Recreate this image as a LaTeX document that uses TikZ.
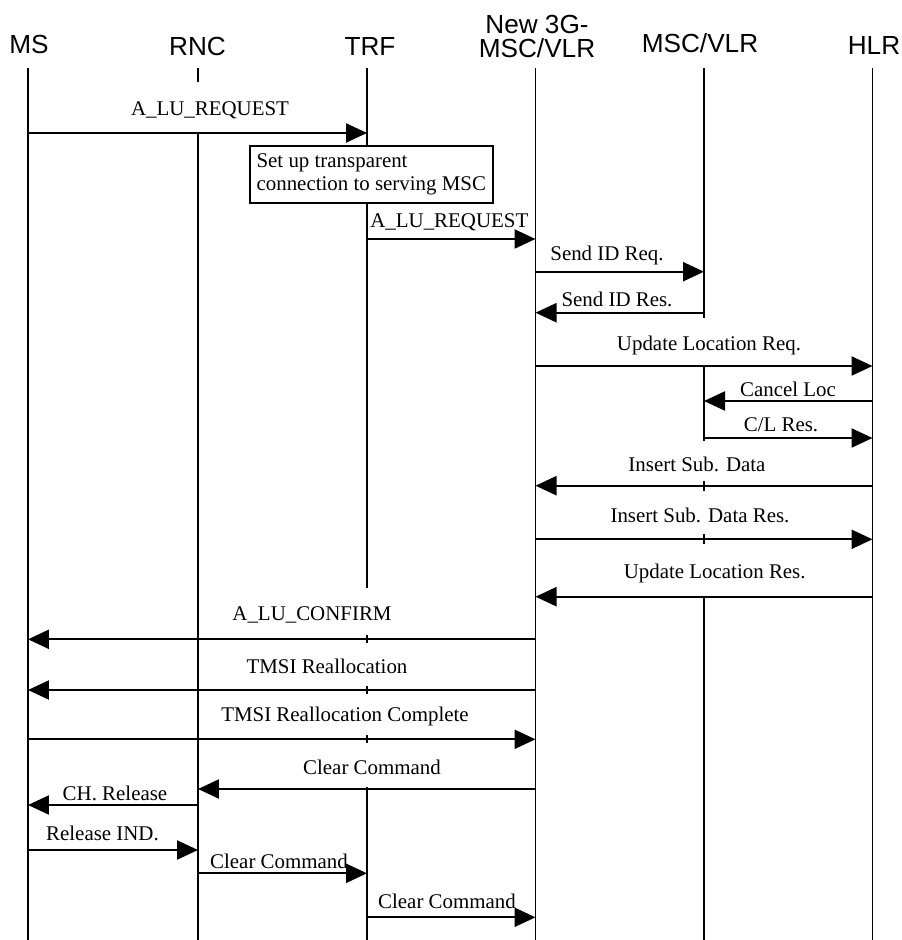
\documentclass[tikz,border=0pt]{standalone}
\usepackage{fontspec}
\setmainfont{Liberation Serif}
\newfontfamily\headfont{Liberation Sans}
\usetikzlibrary{arrows.meta}

\tikzset{
  life/.style={line width=0.9pt},
  msg/.style={line width=1.3pt,-{Triangle[length=0.42cm,width=0.38cm]}},
  head/.style={font=\headfont\fontsize{14.9}{14.2}\selectfont,inner sep=0pt},
  lbl/.style={font=\fontsize{11.9}{13.6}\selectfont,inner sep=0pt,anchor=base},
}

\begin{document}
\begin{tikzpicture}[x=0.02cm,y=-0.02cm]
    \useasboundingbox (0,0) rectangle (902,940);
    \node[head,anchor=base] (hms) at (29,53) {MS};
    \node[head,anchor=base] (hrnc) at (197.5,55) {RNC};
    \node[head,anchor=base] (htrf) at (370,55) {TRF};
    \node[head,align=center] (hnew) at (537,36.5) {New 3G-\\MSC/VLR};
    \node[head,anchor=base] (hvlr) at (700,52) {MSC/VLR};
    \node[head,anchor=base] (hhlr) at (874,54) {HLR};
    \coordinate (ms) at (28,68);
    \coordinate (rnc) at (198,68);
    \coordinate (trf) at (367,68);
    \coordinate (nvlr) at (535.5,68);
    \coordinate (vlr) at (704,68);
    \coordinate (hlr) at (872.5,68);
    \draw[life] (ms) -- (ms |- 0,940);
    \draw[life] (rnc) -- (rnc |- 0,82);
    \draw[life] (rnc |- 0,132) -- (rnc |- 0,940);
    \draw[life] (trf) -- (trf |- 0,588);
    \foreach \y in {639,690,739}
      \draw[life] (trf |- 0,\y-4) -- (trf |- 0,\y+4);
    \draw[life] (trf |- 0,787) -- (trf |- 0,940);
    \draw[life] (nvlr) -- (nvlr |- 0,940);
    \draw[life] (vlr) -- (vlr |- 0,318);
    \draw[life] (vlr |- 0,366) -- (vlr |- 0,441);
    \foreach \y in {486,539}
      \draw[life] (vlr |- 0,\y-5) -- (vlr |- 0,\y+5);
    \draw[life] (vlr |- 0,597) -- (vlr |- 0,940);
    \draw[life] (hlr) -- (hlr |- 0,940);
    \draw[msg] (ms |- 0,133) -- (trf |- 0,133);
    \node[lbl] (m1) at (210,115) {A\_LU\_REQUEST};
    \node[draw,fill=white,line width=0.9pt,anchor=north west,minimum width=4.86cm,minimum height=1.14cm,
          align=left,inner xsep=2pt,font=\fontsize{11.9}{13.6}\selectfont] (setup) at (249,145)
          {Set up transparent\\connection to serving MSC};
    \draw[msg] (trf |- 0,239) -- (nvlr |- 0,239);
    \node[lbl,anchor=base west] (m2) at (370,227) {A\_LU\_REQUEST};
    \draw[msg] (nvlr |- 0,271.7) -- (vlr |- 0,271.7);
    \node[lbl] (m3) at (607,260.7) {Send ID Req.};
    \draw[msg] (vlr |- 0,312.7) -- (nvlr |- 0,312.7);
    \node[lbl] (m4) at (617,306.7) {Send ID Res.};
    \draw[msg] (nvlr |- 0,366) -- (hlr |- 0,366);
    \node[lbl] (m5) at (709,350) {Update Location Req.};
    \draw[msg] (hlr |- 0,401) -- (vlr |- 0,401);
    \node[lbl] (m6) at (788,396) {Cancel Loc};
    \draw[msg] (vlr |- 0,438) -- (hlr |- 0,438);
    \node[lbl] (m7) at (781,431.7) {C/L Res.};
    \draw[msg] (hlr |- 0,485.7) -- (nvlr |- 0,485.7);
    \node[lbl] (m8) at (697,471.7) {Insert Sub. Data};
    \draw[msg] (nvlr |- 0,539.3) -- (hlr |- 0,539.3);
    \node[lbl] (m9) at (700,522.7) {Insert Sub. Data Res.};
    \draw[msg] (hlr |- 0,596.7) -- (nvlr |- 0,596.7);
    \node[lbl] (m10) at (714.7,578) {Update Location Res.};
    \draw[msg] (nvlr |- 0,639.3) -- (ms |- 0,639.3);
    \node[lbl] (m11) at (312,620) {A\_LU\_CONFIRM};
    \draw[msg] (nvlr |- 0,690) -- (ms |- 0,690);
    \node[lbl] (m12) at (327,673) {TMSI Reallocation};
    \draw[msg] (ms |- 0,739.3) -- (nvlr |- 0,739.3);
    \node[lbl] (m13) at (345,721.7) {TMSI Reallocation Complete};
    \draw[msg] (nvlr |- 0,789) -- (rnc |- 0,789);
    \node[lbl] (m14) at (372,774) {Clear Command};
    \draw[msg] (rnc |- 0,805) -- (ms |- 0,805);
    \node[lbl] (m15) at (115,800) {CH. Release};
    \draw[msg] (ms |- 0,850) -- (rnc |- 0,850);
    \node[lbl] (m16) at (102.5,840) {Release IND.};
    \draw[msg] (rnc |- 0,873.3) -- (trf |- 0,873.3);
    \node[lbl] (m17) at (279,868) {Clear Command};
    \draw[msg] (trf |- 0,917.3) -- (nvlr |- 0,917.3);
    \node[lbl] (m18) at (447,908.3) {Clear Command};
\end{tikzpicture}
\end{document}
